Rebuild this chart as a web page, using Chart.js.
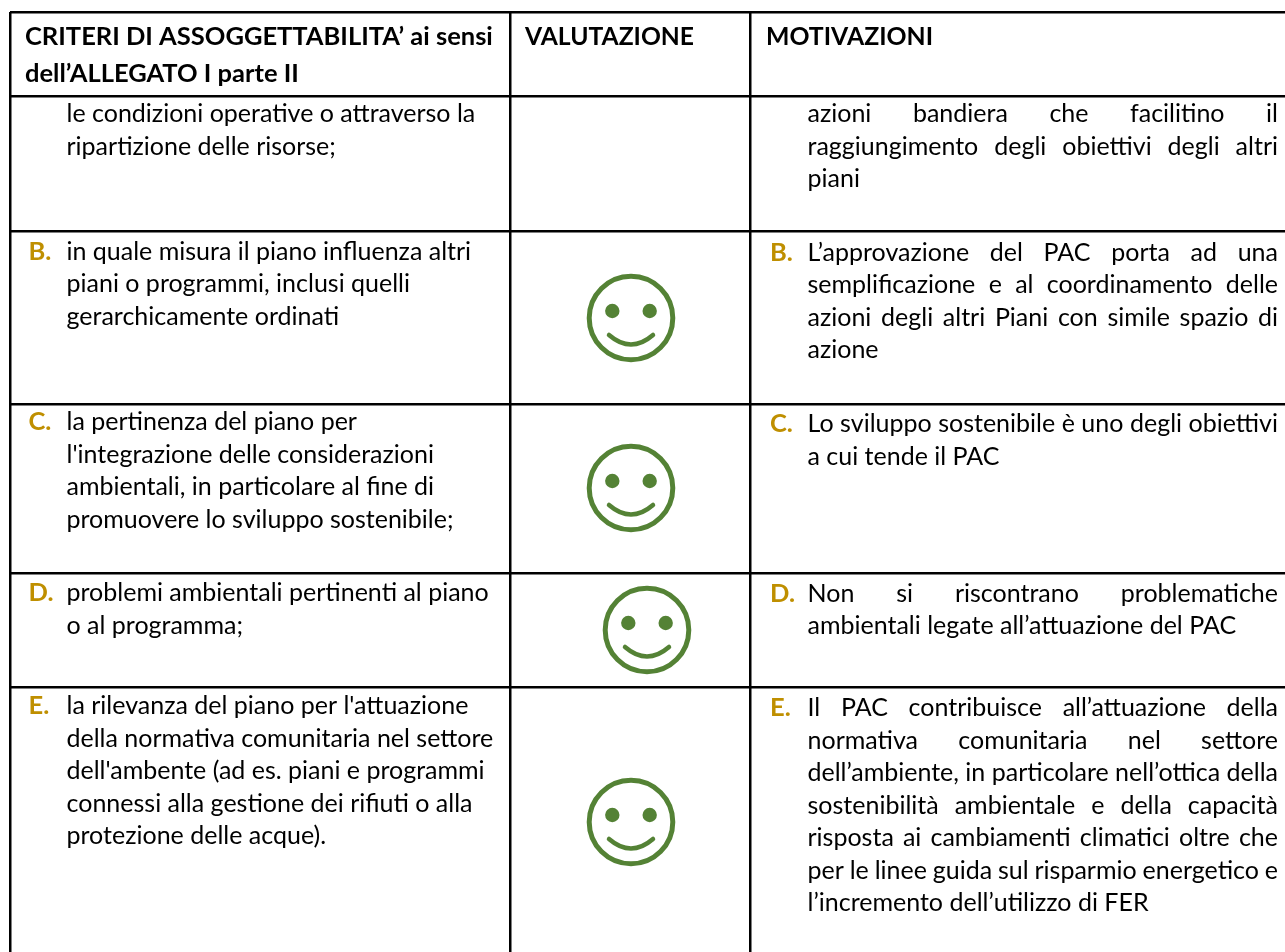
<!DOCTYPE html>
<html lang="it">
<head>
<meta charset="utf-8">
<title>Criteri di assoggettabilità</title>
<style>
  html, body { margin: 0; padding: 0; background: #fff; }
  #tabella { display: block; }
</style>
</head>
<body>
<canvas id="tabella" width="1285" height="952"></canvas>
<script src="https://cdn.jsdelivr.net/npm/chart.js@4"></script>
<script>
// DATI TABELLA
const colEdges = [10, 510, 750];
const rowEdges = [12, 96, 231, 404, 573, 687];

const headerCriteri = ["CRITERI DI ASSOGGETTABILITA’ ai sensi", "dell’ALLEGATO I parte II"];
const headerValutazione = ["VALUTAZIONE"];
const headerMotivazioni = ["MOTIVAZIONI"];

const rowMarkers = ["", "B.", "C.", "D.", "E."];

const criteri = [
  ["le condizioni operative o attraverso la", "ripartizione delle risorse;"],
  ["in quale misura il piano influenza altri", "piani o programmi, inclusi quelli", "gerarchicamente ordinati"],
  ["la pertinenza del piano per", "l'integrazione delle considerazioni", "ambientali, in particolare al fine di", "promuovere lo sviluppo sostenibile;"],
  ["problemi ambientali pertinenti al piano", "o al programma;"],
  ["la rilevanza del piano per l'attuazione", "della normativa comunitaria nel settore", "dell'ambente (ad es. piani e programmi", "connessi alla gestione dei rifiuti o alla", "protezione delle acque)."],
];

const motivazioni = [
  ["azioni bandiera che facilitino il", "raggiungimento degli obiettivi degli altri", "piani"],
  ["L’approvazione del PAC porta ad una", "semplificazione e al coordinamento delle", "azioni degli altri Piani con simile spazio di", "azione"],
  ["Lo sviluppo sostenibile è uno degli obiettivi", "a cui tende il PAC"],
  ["Non si riscontrano problematiche", "ambientali legate all’attuazione del PAC"],
  ["Il PAC contribuisce all’attuazione della", "normativa comunitaria nel settore", "dell’ambiente, in particolare nell’ottica della", "sostenibilità ambientale e della capacità", "risposta ai cambiamenti climatici oltre che", "per le linee guida sul risparmio energetico e", "l’incremento dell’utilizzo di FER"],
];

// VALUTAZIONE: una faccina per riga B-E
const smileX = [631, 631, 647, 631];
const smileY = [318, 488, 630, 822];

// FACCINA
const GREEN = "#548235";
const GOLD = "#BF8F00";

function makeSmile() {
  const c = document.createElement("canvas");
  c.width = 96;
  c.height = 96;
  const g = c.getContext("2d");
  g.translate(48, 48);
  g.strokeStyle = GREEN;
  g.fillStyle = GREEN;
  g.lineWidth = 5;
  g.lineCap = "round";
  g.beginPath();
  g.arc(0, 0, 41.8, 0, Math.PI * 2);
  g.stroke();
  [-18.7, 18.7].forEach((dx) => {
    g.beginPath();
    g.arc(dx, -7, 7.2, 0, Math.PI * 2);
    g.fill();
  });
  g.lineWidth = 4.5;
  g.beginPath();
  g.moveTo(-22, 17);
  g.quadraticCurveTo(0, 36, 22, 17);
  g.stroke();
  return c;
}

// TESTO
const BODY_FONT = '25px Lato, "Open Sans", sans-serif';
const HEAD_FONT = 'bold 25.5px Lato, "Open Sans", sans-serif';
const LINE_H = 32.5;
const BASE_CRITERI = [122, 259.5, 430, 601, 714];
const BASE_MOTIVAZIONI = [122, 260.5, 432, 601.5, 716];

function drawLine(ctx, text, x, y, right) {
  ctx.wordSpacing = "0px";
  if (right) {
    const gaps = text.split(" ").length - 1;
    const extra = (right - x - ctx.measureText(text).width) / gaps;
    ctx.wordSpacing = extra + "px";
  }
  ctx.fillText(text, x, y);
  ctx.wordSpacing = "0px";
}

const tableText = {
  id: "tableText",
  afterDatasetsDraw(chart) {
    const { ctx, scales } = chart;
    const xAt = (v) => scales.x.getPixelForValue(v);
    const yAt = (v) => scales.y.getPixelForValue(v);
    ctx.save();
    ctx.textBaseline = "alphabetic";
    ctx.textAlign = "left";

    ctx.font = HEAD_FONT;
    ctx.fillStyle = "#000";
    headerCriteri.forEach((t, i) => ctx.fillText(t, xAt(colEdges[0] + 15), yAt(45 + i * 36.5)));
    headerValutazione.forEach((t) => ctx.fillText(t, xAt(colEdges[1] + 15), yAt(45), 169));
    headerMotivazioni.forEach((t) => ctx.fillText(t, xAt(colEdges[2] + 16), yAt(45), 167));

    for (let r = 0; r < criteri.length; r++) {
      ctx.font = HEAD_FONT;
      ctx.fillStyle = GOLD;
      if (rowMarkers[r]) {
        ctx.fillText(rowMarkers[r], xAt(colEdges[0] + 18.5), yAt(BASE_CRITERI[r]));
        ctx.fillText(rowMarkers[r], xAt(colEdges[2] + 20), yAt(BASE_MOTIVAZIONI[r]));
      }
      ctx.font = BODY_FONT;
      ctx.fillStyle = "#000";
      criteri[r].forEach((t, i) => drawLine(ctx, t, xAt(colEdges[0] + 56.5), yAt(BASE_CRITERI[r] + i * LINE_H)));
      motivazioni[r].forEach((t, i) => {
        const last = i === motivazioni[r].length - 1;
        drawLine(ctx, t, xAt(colEdges[2] + 57.5), yAt(BASE_MOTIVAZIONI[r] + i * LINE_H), last ? null : xAt(1278));
      });
    }
    ctx.restore();
  },
};

// CHART
const ctx = document.getElementById("tabella").getContext("2d");
new Chart(ctx, {
  type: "scatter",
  data: {
    datasets: [
      {
        label: "Valutazione",
        data: smileX.map((x, i) => ({ x: x, y: smileY[i] })),
        pointStyle: makeSmile(),
        pointRadius: 48,
        showLine: false,
      },
    ],
  },
  options: {
    responsive: false,
    animation: false,
    events: [],
    layout: { autoPadding: false, padding: { left: 10, top: 12, right: 0, bottom: 0 } },
    plugins: { legend: { display: false }, tooltip: { enabled: false } },
    scales: {
      x: {
        type: "linear",
        min: 10,
        max: 1285,
        afterBuildTicks: (scale) => {
          scale.ticks = colEdges.map((v) => ({ value: v }));
        },
        ticks: { display: false },
        border: { display: false },
        grid: { color: "#000", lineWidth: 2.5, drawTicks: false },
      },
      y: {
        type: "linear",
        reverse: true,
        min: 12,
        max: 952,
        afterBuildTicks: (scale) => {
          scale.ticks = rowEdges.map((v) => ({ value: v }));
        },
        ticks: { display: false },
        border: { display: false },
        grid: { color: "#000", lineWidth: 2.5, drawTicks: false },
      },
    },
  },
  plugins: [tableText],
});
</script>
</body>
</html>
